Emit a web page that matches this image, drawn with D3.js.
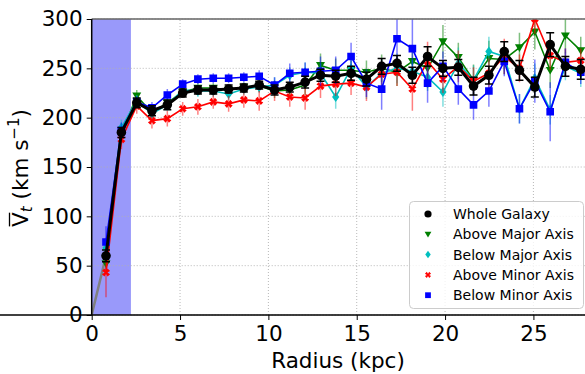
<!DOCTYPE html>
<html><head><meta charset="utf-8">
<script src="https://cdn.jsdelivr.net/npm/d3@7"></script>
<style>body{margin:0;background:#fff}svg{display:block;font-family:"DejaVu Sans",sans-serif}</style>
</head><body><svg id="c" width="585" height="374"></svg>
<script>
const radius = [0.81,1.68,2.55,3.41,4.28,5.15,6.01,6.88,7.75,8.61,9.48,10.35,11.21,12.08,12.95,13.81,14.68,15.55,16.41,17.28,18.15,19.01,19.88,20.75,21.61,22.48,23.35,24.21,25.08,25.95,26.81,27.68];
const whole = [60,185,215,207,213,225,228,228,229,230,233,228,231,236,243,242,245,239,252,255,243,262,250,251,232,243,267,248,231,274,252,249];
const wholeErr = [6,5,5,5,5,4,4,4,4,4,4,5,5,6,6,6,7,7,8,8,8,10,8,8,9,9,10,10,10,12,10,10];
const aboveMajor = [52,183,222,205,215,226,230,230,228,231,232,227,228,233,253,248,248,246,250,246,257,250,277,261,238,260,259,271,287,248,283,268];
const aboveMajorErr = [10,6,6,6,6,5,5,5,5,5,6,7,8,10,12,12,10,12,14,14,16,20,17,15,16,18,15,15,18,18,18,14];
const belowMajor = [68,190,217,204,213,228,227,227,224,229,231,233,243,246,245,221,250,231,245,250,247,241,226,255,238,267,262,209,240,208,252,245];
const belowMajorErr = [8,8,6,6,6,6,6,6,6,6,6,8,8,10,10,12,14,12,15,15,12,14,15,16,15,15,15,15,15,15,14,14];
const aboveMinor = [43,178,212,197,199,209,211,216,214,218,217,227,221,220,232,234,235,231,244,246,229,257,239,252,237,245,262,250,300,263,256,258];
const aboveMinorErr = [25,10,8,8,8,7,8,7,8,8,10,10,10,12,12,12,12,14,14,14,22,20,14,16,14,15,18,14,15,15,14,12];
const belowMinor = [74,187,216,210,223,234,239,240,240,241,242,233,245,246,247,248,262,235,229,280,270,235,252,229,213,227,257,209,237,206,256,246];
const belowMinorErr = [16,8,6,6,6,5,5,5,5,5,6,8,10,10,15,14,14,14,21,28,30,20,15,16,15,16,15,15,22,30,14,12];
const xTicks = [0,5,10,15,20,25];
const yTicks = [0,50,100,150,200,250,300];
const shadeEnd = 2.22;
const legendLabels = ["Whole Galaxy","Above Major Axis","Below Major Axis","Above Minor Axis","Below Minor Axis"];

const svg = d3.select("#c");
const x = d3.scaleLinear().domain([0, 27.92]).range([91.7, 585]);
const y = d3.scaleLinear().domain([0, 300]).range([315, 19]);

svg.append("defs").append("clipPath").attr("id","clip").append("rect")
  .attr("x", x(0)).attr("y", y(300)).attr("width", 585 - x(0)).attr("height", y(0) - y(300));

svg.append("rect").attr("x", x(0)).attr("y", y(300)).attr("width", x(shadeEnd) - x(0))
  .attr("height", y(0) - y(300)).attr("fill", "rgb(153,153,250)");

const grid = svg.append("g").attr("stroke", "#b0b0b0").attr("stroke-width", 0.9).attr("stroke-dasharray", "1,2");
xTicks.forEach(t => grid.append("line").attr("x1", x(t)).attr("x2", x(t)).attr("y1", y(0)).attr("y2", y(300)));
yTicks.forEach(t => grid.append("line").attr("x1", x(0)).attr("x2", 585).attr("y1", y(t)).attr("y2", y(t)));

const plot = svg.append("g").attr("clip-path", "url(#clip)");

plot.append("path").attr("d", d3.line()([[x(0), y(0)], [x(radius[0]), y(whole[0])], [x(radius[1]), y(whole[1])]]))
  .attr("fill", "none").attr("stroke", "#808080").attr("stroke-width", 2.5);

const series = [
  {vals: aboveMajor, err: aboveMajorErr, color: "green", sym: "tri"},
  {vals: belowMajor, err: belowMajorErr, color: "#00bfbf", sym: "dia"},
  {vals: aboveMinor, err: aboveMinorErr, color: "red", sym: "x"},
  {vals: belowMinor, err: belowMinorErr, color: "blue", sym: "sq"},
];

function symPath(sym, s) {
  if (sym === "tri") return `M${-s},${-s*0.75}L${s},${-s*0.75}L0,${s*0.95}Z`;
  if (sym === "dia") return `M0,${-s*1.1}L${s*0.8},0L0,${s*1.1}L${-s*0.8},0Z`;
  if (sym === "sq") return `M${-s*0.85},${-s*0.85}h${s*1.7}v${s*1.7}h${-s*1.7}Z`;
  if (sym === "x") { const a = s*0.9, b = s*0.55;
    return `M${-a},${-a+b}L${-a+b},${-a}L0,${-b*0.6}L${a-b},${-a}L${a},${-a+b}L${b*0.6},0L${a},${a-b}L${a-b},${a}L0,${b*0.6}L${-a+b},${a}L${-a},${a-b}L${-b*0.6},0Z`; }
  return "";
}

const line = d3.line().x((d,i) => x(radius[i])).y(d => y(d));
series.forEach(s => {
  const g = plot.append("g");
  g.selectAll("line.err").data(s.vals).join("line")
    .attr("x1", (d,i) => x(radius[i])).attr("x2", (d,i) => x(radius[i]))
    .attr("y1", (d,i) => y(d - s.err[i])).attr("y2", (d,i) => y(d + s.err[i]))
    .attr("stroke", s.color).attr("stroke-opacity", 0.5).attr("stroke-width", 1.5);
  g.append("path").attr("d", line(s.vals)).attr("fill", "none").attr("stroke", s.color).attr("stroke-width", 1.6);
  g.selectAll("path.m").data(s.vals).join("path").attr("class","m")
    .attr("transform", (d,i) => `translate(${x(radius[i])},${y(d)})`)
    .attr("d", symPath(s.sym, 4.5)).attr("fill", s.color);
});

const gw = plot.append("g");
gw.selectAll("line.e").data(whole).join("line")
  .attr("x1", (d,i) => x(radius[i])).attr("x2", (d,i) => x(radius[i]))
  .attr("y1", (d,i) => y(d - wholeErr[i])).attr("y2", (d,i) => y(d + wholeErr[i]))
  .attr("stroke", "#000").attr("stroke-width", 1.5);
[-1, 1].forEach(sg => {
  gw.selectAll(null).data(whole).join("line")
    .attr("x1", (d,i) => x(radius[i]) - 4).attr("x2", (d,i) => x(radius[i]) + 4)
    .attr("y1", (d,i) => y(d + sg*wholeErr[i])).attr("y2", (d,i) => y(d + sg*wholeErr[i]))
    .attr("stroke", "#000").attr("stroke-width", 1.5);
});
gw.append("path").attr("d", line(whole)).attr("fill", "none").attr("stroke", "#000").attr("stroke-width", 3);
gw.selectAll("circle").data(whole).join("circle")
  .attr("cx", (d,i) => x(radius[i])).attr("cy", d => y(d)).attr("r", 4.8).attr("fill", "#000");

svg.append("line").attr("x1", x(0)).attr("x2", 585).attr("y1", y(300)).attr("y2", y(300))
  .attr("stroke", "#666").attr("stroke-width", 1.6);

const xAxis = svg.append("g").attr("transform", `translate(0,${y(0)})`)
  .call(d3.axisBottom(x).tickValues(xTicks).tickFormat(d3.format("d")).tickSize(5).tickPadding(6));
const yAxis = svg.append("g").attr("transform", `translate(${x(0)},0)`)
  .call(d3.axisLeft(y).tickValues(yTicks).tickFormat(d3.format("d")).tickSize(5).tickPadding(4));
[xAxis, yAxis].forEach(a => {
  a.selectAll("text").attr("font-size", 21.5).attr("fill", "#000").attr("font-family", "DejaVu Sans");
  a.selectAll("line").attr("stroke", "#000").attr("stroke-width", 1);
  a.select(".domain").attr("stroke", "#000").attr("stroke-width", 1.5);
});
yAxis.select(".domain").attr("d", `M0,${y(0)}V${y(300)}`);
xAxis.select(".domain").attr("d", `M0,0H585`);

svg.append("text").attr("x", 338).attr("y", 368).attr("text-anchor", "middle")
  .attr("font-size", 21.5).text("Radius (kpc)");
const yl = svg.append("g").attr("transform", "translate(28,168) rotate(-90)");
const yt = yl.append("text").attr("text-anchor", "middle").attr("font-size", 21.5);
yt.append("tspan").text("V");
yt.append("tspan").attr("font-size", 15).attr("font-style", "italic").attr("dy", 4).text("t");
yt.append("tspan").attr("dy", -4).text(" (km s");
yt.append("tspan").attr("font-size", 15).attr("dy", -9).text("−1");
yt.append("tspan").attr("dy", 9).text(")");
const vb = yt.node().getExtentOfChar(0);
yl.append("line").attr("x1", vb.x + 0.5).attr("x2", vb.x + vb.width - 0.5)
  .attr("y1", vb.y + 1.5).attr("y2", vb.y + 1.5).attr("stroke", "#000").attr("stroke-width", 1.3);

const lg = svg.append("g");
lg.append("rect").attr("x", 409.5).attr("y", 201.5).attr("width", 174).attr("height", 107).attr("rx", 4)
  .attr("fill", "#fff").attr("fill-opacity", 0.8).attr("stroke", "#cccccc");
const lsyms = ["circ","tri","dia","x","sq"];
const lcols = ["#000","green","#00bfbf","red","blue"];
legendLabels.forEach((lab, k) => {
  const cy = 214 + k * 20.3;
  if (lsyms[k] === "circ") lg.append("circle").attr("cx", 428).attr("cy", cy).attr("r", 3.6).attr("fill", "#000");
  else lg.append("path").attr("transform", `translate(428,${cy})`).attr("d", symPath(lsyms[k], 3.4)).attr("fill", lcols[k]);
  lg.append("text").attr("x", 453).attr("y", cy + 5).attr("font-size", 14).text(lab);
});
</script></body></html>
